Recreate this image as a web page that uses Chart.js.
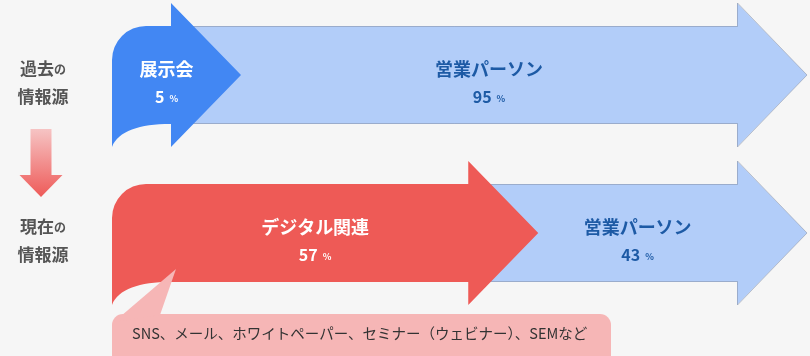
<!DOCTYPE html>
<html><head><meta charset="utf-8">
<script src="https://cdn.jsdelivr.net/npm/chart.js@4"></script>
<style>html,body{margin:0;padding:0;background:#f6f6f6;overflow:hidden}#wrap{width:810px;height:356px;position:relative}</style>
</head><body><div id="wrap"><canvas id="c"></canvas></div>
<script>
const categories = [['過去の', '情報源'], ['現在の', '情報源']];
const firstSourceNames = ['展示会', 'デジタル関連'];
const firstSourceValues = [5, 57];
const salesNames = ['営業パーソン', '営業パーソン'];
const salesValues = [95, 43];
const digitalNote = 'SNS、メール、ホワイトペーパー、セミナー（ウェビナー）、SEMなど';

const FONT = '"Noto Sans CJK JP", "Noto Sans", sans-serif';
const COLORS = {
  first: ['#4287f3', '#ee5a56'],
  sales: '#b2cdf9', salesStroke: 'rgba(130,140,160,0.5)',
  salesText: '#1d5aa5', bubble: '#f6b6b6', note: '#333', label: '#555'
};

function drawValue(ctx, cx, cy, value, color) {
  const num = String(value);
  ctx.font = 'bold 16px ' + FONT;
  const wn = ctx.measureText(num).width;
  ctx.font = 'bold 9px ' + FONT;
  const wp = ctx.measureText('%').width;
  const gap = 5;
  const x0 = cx - (wn + gap + wp) / 2;
  ctx.fillStyle = color;
  ctx.textAlign = 'left';
  ctx.textBaseline = 'alphabetic';
  ctx.font = 'bold 16px ' + FONT;
  ctx.fillText(num, x0, cy + 6);
  ctx.font = 'bold 9px ' + FONT;
  ctx.fillText('%', x0 + wn + gap, cy + 5);
}

const arrowPlugin = {
  id: 'arrows',
  afterDatasetsDraw(chart) {
    const ctx = chart.ctx;
    const L = chart.chartArea.left;
    const m0 = chart.getDatasetMeta(0), m1 = chart.getDatasetMeta(1);
    const HL = 70, MINW = 59, R = 34, CURL = 58, HEAD = 72;
    ctx.save();
    categories.forEach((cat, i) => {
      const b0 = m0.data[i].getProps(['x', 'y', 'base', 'height'], true);
      const b1 = m1.data[i].getProps(['x', 'y', 'base', 'height'], true);
      const y = b0.y, h = b0.height / 2;
      const e0 = Math.max(b0.x, b0.base + MINW);
      const e1 = b1.x;
      // sales arrow (behind)
      ctx.beginPath();
      ctx.moveTo(e0, y - h); ctx.lineTo(e1, y - h); ctx.lineTo(e1, y - HEAD);
      ctx.lineTo(e1 + HL, y); ctx.lineTo(e1, y + HEAD); ctx.lineTo(e1, y + h);
      ctx.lineTo(e0, y + h); ctx.closePath();
      ctx.fillStyle = COLORS.sales; ctx.fill();
      ctx.beginPath();
      ctx.moveTo(e0, y - h + 0.5); ctx.lineTo(e1 + 0.5, y - h + 0.5); ctx.lineTo(e1 + 0.5, y - HEAD);
      ctx.lineTo(e1 + HL, y); ctx.lineTo(e1 + 0.5, y + HEAD); ctx.lineTo(e1 + 0.5, y + h - 0.5);
      ctx.lineTo(e0, y + h - 0.5);
      ctx.strokeStyle = COLORS.salesStroke; ctx.lineWidth = 1; ctx.stroke();
      // first source arrow
      ctx.beginPath();
      ctx.moveTo(L, y + HEAD);
      ctx.lineTo(L, y - h + R);
      ctx.arcTo(L, y - h, L + R, y - h, R);
      ctx.lineTo(e0, y - h); ctx.lineTo(e0, y - HEAD); ctx.lineTo(e0 + HL, y);
      ctx.lineTo(e0, y + HEAD); ctx.lineTo(e0, y + h);
      ctx.lineTo(L + CURL, y + h);
      ctx.bezierCurveTo(L + 28, y + h, L + 6, y + h + 7, L, y + HEAD);
      ctx.closePath();
      ctx.fillStyle = COLORS.first[i]; ctx.fill();
      // texts
      const c0 = (L + e0 + HL) / 2 - 10;
      ctx.fillStyle = '#fff'; ctx.textAlign = 'center'; ctx.textBaseline = 'middle';
      ctx.font = 'bold 18px ' + FONT;
      ctx.fillText(firstSourceNames[i], c0, y - 6);
      drawValue(ctx, c0, y + 21.5, firstSourceValues[i], '#fff');
      const c1 = (e0 + HL + e1) / 2;
      ctx.fillStyle = COLORS.salesText; ctx.textAlign = 'center'; ctx.textBaseline = 'middle';
      ctx.font = 'bold 18px ' + FONT;
      ctx.fillText(salesNames[i], c1, y - 6);
      drawValue(ctx, c1, y + 21.5, salesValues[i], COLORS.salesText);
      // category label
      const lx = L - 69;
      ctx.fillStyle = COLORS.label; ctx.textBaseline = 'middle'; ctx.textAlign = 'left';
      const l1 = cat[0], main = l1.slice(0, -1), tail = l1.slice(-1);
      ctx.font = 'bold 17px ' + FONT; const wm = ctx.measureText(main).width;
      ctx.font = 'bold 12px ' + FONT; const wt = ctx.measureText(tail).width;
      const sx = lx - (wm + wt) / 2;
      ctx.font = 'bold 17px ' + FONT; ctx.fillText(main, sx, y - 6.5);
      ctx.font = 'bold 12px ' + FONT; ctx.fillText(tail, sx + wm, y - 5.5);
      ctx.font = 'bold 17px ' + FONT; ctx.textAlign = 'center';
      ctx.fillText(cat[1], lx, y + 21.5);
      if (i === 1) {
        // callout bubble
        const top = y + 81, right = L + 499, r = 11;
        ctx.beginPath();
        ctx.moveTo(L + r, top); ctx.lineTo(right - r, top);
        ctx.arcTo(right, top, right, top + r, r);
        ctx.lineTo(right, top + 80); ctx.lineTo(L, top + 80);
        ctx.lineTo(L, top + r); ctx.arcTo(L, top, L + r, top, r);
        ctx.closePath();
        ctx.fillStyle = COLORS.bubble; ctx.fill();
        ctx.beginPath();
        ctx.moveTo(L + 2, top + 8); ctx.lineTo(L + 64, y + 36); ctx.lineTo(L + 48, top + 1);
        ctx.closePath(); ctx.fill();
        ctx.fillStyle = COLORS.note; ctx.textAlign = 'left'; ctx.textBaseline = 'middle';
        ctx.font = '14.5px ' + FONT;
        ctx.fillText(digitalNote, L + 20, y + 100);
      }
    });
    // down arrow between rows
    const y0 = m0.data[0].y, y1 = m0.data[1].y, ax = L - 71;
    const g = ctx.createLinearGradient(0, y0 + 54, 0, y1 - 36);
    g.addColorStop(0, '#f6c4c4'); g.addColorStop(1, '#ee5a58');
    ctx.fillStyle = g;
    ctx.beginPath();
    ctx.moveTo(ax - 10.5, y0 + 54); ctx.lineTo(ax + 10.5, y0 + 54); ctx.lineTo(ax + 10.5, y1 - 58);
    ctx.lineTo(ax + 21.5, y1 - 58); ctx.lineTo(ax, y1 - 36); ctx.lineTo(ax - 21.5, y1 - 58);
    ctx.lineTo(ax - 10.5, y1 - 58); ctx.closePath(); ctx.fill();
    ctx.restore();
  }
};

new Chart(document.getElementById('c'), {
  type: 'bar',
  data: {
    labels: categories,
    datasets: [
      { label: 'first', data: firstSourceValues, backgroundColor: 'rgba(0,0,0,0)', barThickness: 98 },
      { label: 'sales', data: salesValues, backgroundColor: 'rgba(0,0,0,0)', barThickness: 98 }
    ]
  },
  options: {
    indexAxis: 'y', responsive: true, maintainAspectRatio: false, animation: false,
    layout: { padding: { left: 112, right: 73, top: 75, bottom: 123 } },
    scales: {
      x: { stacked: true, min: 0, max: 100, display: false },
      y: { stacked: true, offset: false, display: false }
    },
    plugins: { legend: { display: false }, tooltip: { enabled: false } },
    events: []
  },
  plugins: [arrowPlugin]
});
</script></body></html>
